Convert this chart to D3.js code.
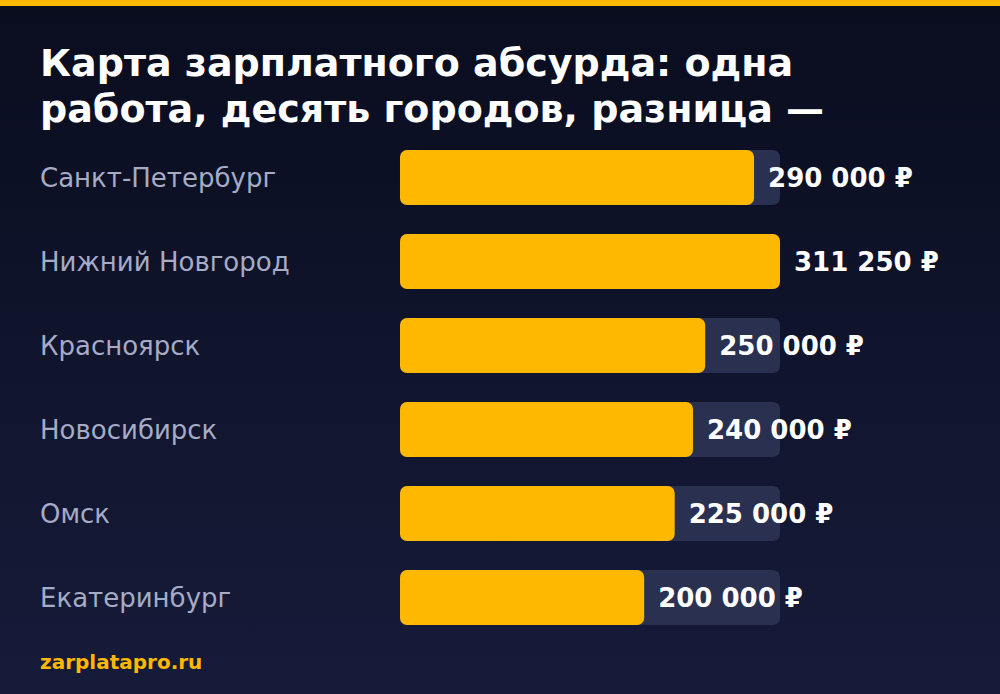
<!DOCTYPE html>
<html>
<head>
<meta charset="utf-8">
<script src="https://cdn.jsdelivr.net/npm/d3@7"></script>
<style>
  html, body { margin: 0; padding: 0; background: #0b0e1f; }
  svg { display: block; font-family: "DejaVu Sans", sans-serif; }
</style>
</head>
<body>
<div id="chart"></div>
<script>
// Data
const cities = ["Санкт-Петербург", "Нижний Новгород", "Красноярск", "Новосибирск", "Омск", "Екатеринбург"];
const salaries = [290000, 311250, 250000, 240000, 225000, 200000];
const titleLines = ["Карта зарплатного абсурда: одна", "работа, десять городов, разница —"];
const footer = "zarplatapro.ru";

const width = 1000, height = 694;
const svg = d3.select("#chart").append("svg")
  .attr("width", width)
  .attr("height", height);

// background gradient
const defs = svg.append("defs");
const grad = defs.append("linearGradient")
  .attr("id", "bg").attr("x1", 0).attr("y1", 0).attr("x2", 0).attr("y2", 1);
grad.append("stop").attr("offset", "0%").attr("stop-color", "#0a0d1e");
grad.append("stop").attr("offset", "100%").attr("stop-color", "#161b3a");
svg.append("rect").attr("width", width).attr("height", height).attr("fill", "url(#bg)");

// top accent
svg.append("rect").attr("width", width).attr("height", 6).attr("fill", "#ffb800");

// title
svg.append("g").selectAll("text")
  .data(titleLines)
  .enter().append("text")
  .attr("x", 40)
  .attr("y", (d, i) => 76 + i * 46)
  .attr("fill", "#ffffff")
  .attr("font-size", "38px")
  .attr("font-weight", "bold")
  .text(d => d);

// scales
const x = d3.scaleLinear()
  .domain([0, d3.max(salaries)])
  .range([400, 780]);
const y = d3.scaleBand()
  .domain(cities)
  .range([150, 625])
  .paddingInner(29 / 84)
  .paddingOuter(0);

const data = cities.map((c, i) => ({city: c, value: salaries[i]}));
const fmt = v => d3.format(",")(v).replace(/,/g, " ") + " ₽";

const rows = svg.append("g").selectAll("g")
  .data(data)
  .enter().append("g");

// track
rows.append("rect")
  .attr("x", x(0))
  .attr("y", d => y(d.city))
  .attr("width", x.range()[1] - x(0))
  .attr("height", y.bandwidth())
  .attr("rx", 7)
  .attr("fill", "#2a3050");

// bar
rows.append("rect")
  .attr("x", x(0))
  .attr("y", d => y(d.city))
  .attr("width", d => x(d.value) - x(0))
  .attr("height", y.bandwidth())
  .attr("rx", 7)
  .attr("fill", "#ffb800");

// city labels
rows.append("text")
  .attr("x", 40)
  .attr("y", d => y(d.city) + y.bandwidth() / 2)
  .attr("dy", "0.35em")
  .attr("fill", "#a6abc6")
  .attr("font-size", "26px")
  .text(d => d.city);

// value labels
rows.append("text")
  .attr("x", d => x(d.value) + 14)
  .attr("y", d => y(d.city) + y.bandwidth() / 2)
  .attr("dy", "0.35em")
  .attr("fill", "#ffffff")
  .attr("font-size", "26px")
  .attr("font-weight", "bold")
  .text(d => fmt(d.value));

// footer
svg.append("text")
  .attr("x", 40)
  .attr("y", 669)
  .attr("fill", "#ffb800")
  .attr("font-size", "20px")
  .attr("font-weight", "bold")
  .text(footer);
</script>
</body>
</html>
